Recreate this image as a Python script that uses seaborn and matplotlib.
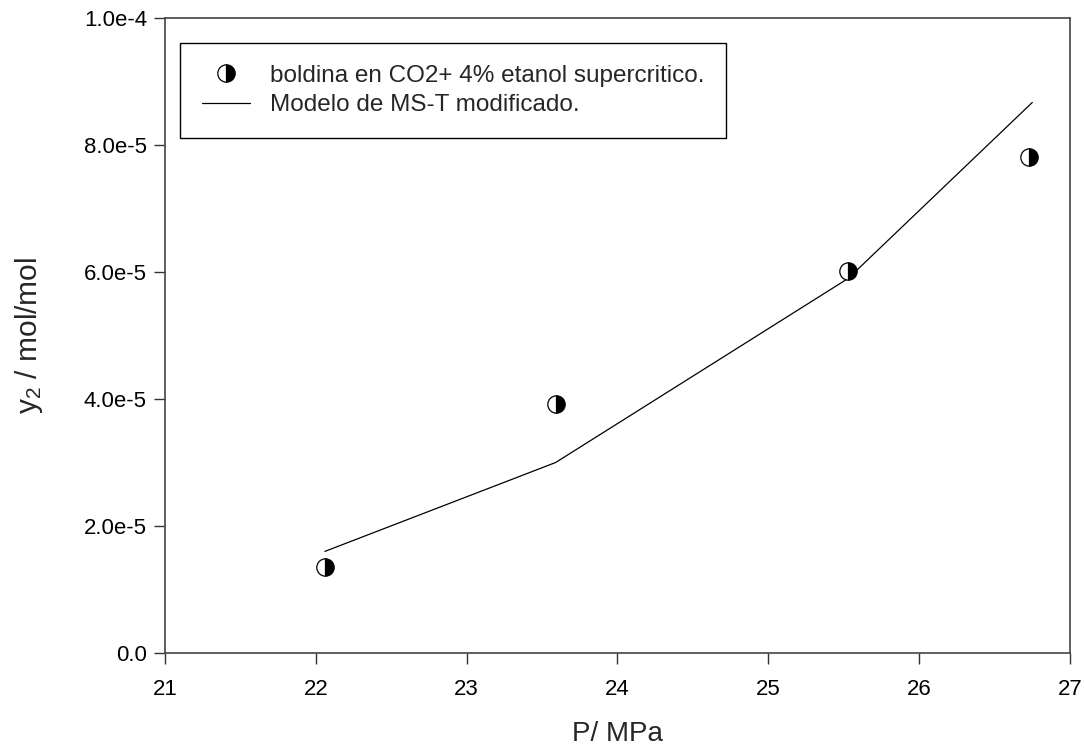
import matplotlib
matplotlib.use("Agg")
import matplotlib.pyplot as plt
import seaborn as sns
import pandas as pd
from matplotlib.ticker import FuncFormatter, FixedLocator
from matplotlib.lines import Line2D

# Data
exp_P = [22.06, 23.59, 25.53, 26.73]
exp_y = [1.35e-5, 3.92e-5, 6.01e-5, 7.81e-5]
model_P = [22.06, 23.59, 25.53, 26.75]
model_y = [1.60e-5, 3.00e-5, 5.90e-5, 8.67e-5]
xticks = [21, 22, 23, 24, 25, 26, 27]
yticks = [0.0, 2e-5, 4e-5, 6e-5, 8e-5, 1e-4]
ytick_labels = ["0.0", "2.0e-5", "4.0e-5", "6.0e-5", "8.0e-5", "1.0e-4"]
exp_label = "boldina en CO2+ 4% etanol supercritico."
model_label = "Modelo de MS-T modificado."

sns.set_theme(style="ticks")
plt.rcParams['font.family'] = ['Liberation Sans', 'DejaVu Sans']
plt.rcParams['mathtext.fontset'] = 'custom'
plt.rcParams['mathtext.rm'] = 'Liberation Sans'
plt.rcParams['mathtext.it'] = 'Liberation Sans'

fig = plt.figure(figsize=(10.84, 7.54), dpi=100)
ax = fig.add_axes([165/1084, 101/754, 905/1084, 635/754])

df_model = pd.DataFrame({"P": model_P, "y": model_y})
df_exp = pd.DataFrame({"P": exp_P, "y": exp_y})

sns.lineplot(data=df_model, x="P", y="y", ax=ax, color="black", linewidth=0.9,
             estimator=None, sort=False, legend=False)
sns.lineplot(data=df_exp, x="P", y="y", ax=ax, linestyle="", marker="o",
             markersize=12.5, fillstyle="right", markerfacecolor="black",
             markerfacecoloralt="white", markeredgecolor="black",
             markeredgewidth=0.9, estimator=None, sort=False, legend=False)

ax.set_xlim(21, 27)
ax.set_ylim(0, 1e-4)
ax.xaxis.set_major_locator(FixedLocator(xticks))
ax.yaxis.set_major_locator(FixedLocator(yticks))
ax.yaxis.set_major_formatter(FuncFormatter(lambda v, p: ytick_labels[yticks.index(min(yticks, key=lambda t: abs(t - v)))]))
ax.tick_params(axis="both", direction="out", length=8, width=1, colors="#333333",
               labelcolor="black", labelsize=16, top=False, right=False)
ax.tick_params(axis="x", pad=11)
ax.tick_params(axis="y", pad=5)

for s in ax.spines.values():
    s.set_visible(True)
    s.set_color("#444444")
    s.set_linewidth(1.2)

ax.set_xlabel("P/ MPa", fontsize=20, labelpad=15)
ax.set_ylabel("y$_2$ / mol/mol", fontsize=21.5, labelpad=28)

handles = [
    Line2D([], [], linestyle="", marker="o", markersize=12.5, fillstyle="right",
           markerfacecolor="black", markerfacecoloralt="white",
           markeredgecolor="black", markeredgewidth=0.9),
    Line2D([], [], color="black", linewidth=0.9),
]
leg = ax.legend(handles, [exp_label, model_label], loc="upper left",
                bbox_to_anchor=(15/905, 610/635), fontsize=17.5, frameon=True,
                fancybox=False, edgecolor="black", framealpha=1,
                borderpad=0.9, handlelength=2.0, handletextpad=0.8,
                labelspacing=0.3, borderaxespad=0)
leg.get_frame().set_linewidth(1.0)

fig.savefig("out.png", dpi=100)
